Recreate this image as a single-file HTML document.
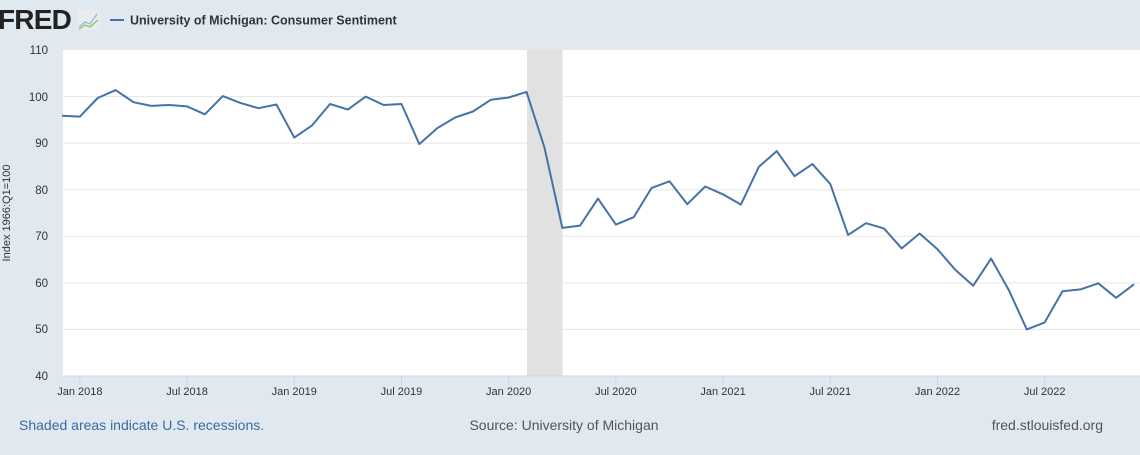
<!DOCTYPE html>
<html><head><style>
body{margin:0;width:1140px;height:450px;background:#e1e9f0;font-family:"Liberation Sans",sans-serif;overflow:hidden}
</style></head><body>
<svg width="1140" height="450" xmlns="http://www.w3.org/2000/svg" font-family="Liberation Sans, sans-serif">
<rect x="0" y="0" width="1140" height="450" fill="#e1e9f0"/>
<text x="-2" y="29" font-size="28" font-weight="bold" fill="#222" letter-spacing="-0.8">FRED</text>
<rect x="78" y="10" width="22" height="20" fill="#e8ecef" rx="2"/>
<polyline points="79,27 85,22 90,24 97,14" fill="none" stroke="#9bb7cf" stroke-width="1.3"/>
<polyline points="79,29 85,25 90,27 98,20" fill="none" stroke="#8fbf6a" stroke-width="1.3"/>
<line x1="110" y1="20" x2="124" y2="20" stroke="#4572a7" stroke-width="2"/>
<text x="130" y="24.5" font-size="12.5" font-weight="bold" fill="#333">University of Michigan: Consumer Sentiment</text>
<rect x="63" y="50" width="1077" height="326" fill="#fff"/>
<g stroke="#e6e6e6" stroke-width="1">
<line x1="63" x2="1140" y1="96.6" y2="96.6"/><line x1="63" x2="1140" y1="143.1" y2="143.1"/>
<line x1="63" x2="1140" y1="189.7" y2="189.7"/><line x1="63" x2="1140" y1="236.3" y2="236.3"/>
<line x1="63" x2="1140" y1="282.9" y2="282.9"/><line x1="63" x2="1140" y1="329.4" y2="329.4"/>
</g>
<rect x="527" y="50" width="35.5" height="326" fill="#e1e1e1"/>
<line x1="63" x2="1140" y1="376" y2="376" stroke="#ccd6eb"/>
<g font-size="11.5" fill="#333" text-anchor="end">
<text x="48" y="54">110</text><text x="48" y="101">100</text><text x="48" y="147">90</text>
<text x="48" y="194">80</text><text x="48" y="240">70</text><text x="48" y="287">60</text>
<text x="48" y="333">50</text><text x="48" y="380">40</text>
</g>
<text transform="translate(10,213) rotate(-90)" font-size="11" fill="#333" text-anchor="middle">Index 1966:Q1=100</text>
<g id="ticks" stroke="#ccd6eb"></g>
<g id="xl" font-size="11" fill="#333" text-anchor="middle"></g>
<polyline id="line" fill="none" stroke="#4572a7" stroke-width="2" stroke-linejoin="round"/>
<text x="19" y="430" font-size="14" fill="#3b6aa0">Shaded areas indicate U.S. recessions.</text>
<text x="564" y="430" font-size="14" fill="#555" text-anchor="middle">Source: University of Michigan</text>
<text x="1103" y="430" font-size="14" fill="#555" text-anchor="end">fred.stlouisfed.org</text>
</svg>
<script>
var d=[95.9,95.7,99.7,101.4,98.8,98.0,98.2,97.9,96.2,100.1,98.6,97.5,98.3,91.2,93.8,98.4,97.2,100.0,98.2,98.4,89.8,93.2,95.5,96.8,99.3,99.8,101.0,89.1,71.8,72.3,78.1,72.5,74.1,80.4,81.8,76.9,80.7,79.0,76.8,84.9,88.3,82.9,85.5,81.2,70.3,72.8,71.7,67.4,70.6,67.2,62.8,59.4,65.2,58.4,50.0,51.5,58.2,58.6,59.9,56.8,59.7];
function X(i){return 62+i*(1134-62)/60}function Y(v){return 376-(v-40)*326/70}
document.getElementById('line').setAttribute('points',d.map(function(v,i){return X(i).toFixed(1)+','+Y(v).toFixed(1)}).join(' '));
var labs=["Jan 2018","Jul 2018","Jan 2019","Jul 2019","Jan 2020","Jul 2020","Jan 2021","Jul 2021","Jan 2022","Jul 2022"];
var t=document.getElementById('ticks'),xl=document.getElementById('xl'),ns="http://www.w3.org/2000/svg";
labs.forEach(function(l,k){var x=X(1+6*k);var ln=document.createElementNS(ns,'line');ln.setAttribute('x1',x);ln.setAttribute('x2',x);ln.setAttribute('y1',376);ln.setAttribute('y2',385);t.appendChild(ln);
var tx=document.createElementNS(ns,'text');tx.setAttribute('x',x);tx.setAttribute('y',395);tx.textContent=l;xl.appendChild(tx);});
</script>
</body></html>
